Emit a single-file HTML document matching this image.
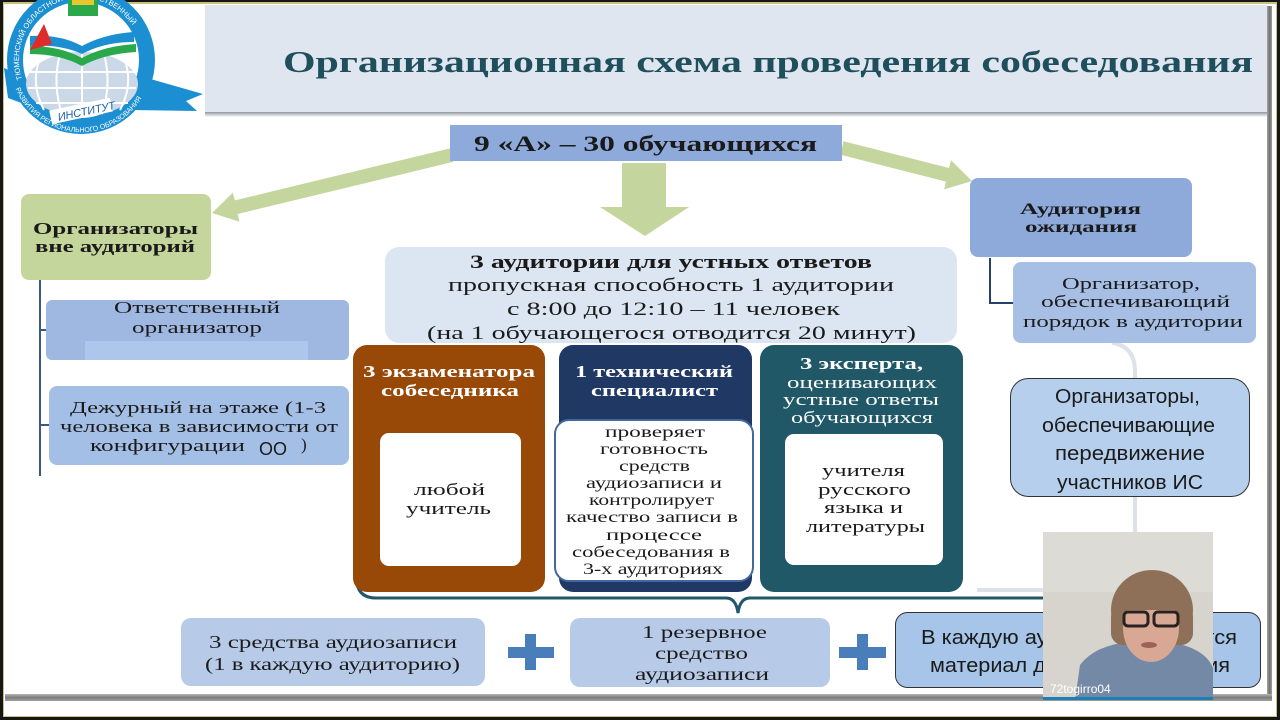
<!DOCTYPE html>
<html>
<head>
<meta charset="utf-8">
<style>
html,body{margin:0;padding:0;background:#161616;}
svg{display:block;}
.s{font-family:"Liberation Serif","DejaVu Serif",serif;fill:#1a1a1a;}
.b{font-weight:bold;}
.w{fill:#ffffff;}
.ss{font-family:"Liberation Sans","DejaVu Sans",sans-serif;fill:#1a1a1a;}
</style>
</head>
<body>
<svg width="1280" height="720" viewBox="0 0 1280 720" xmlns="http://www.w3.org/2000/svg">
  <defs>
    <linearGradient id="gbar" x1="0" y1="0" x2="0" y2="1">
      <stop offset="0" stop-color="#b5b5b5"/>
      <stop offset="0.5" stop-color="#7d7d7d"/>
      <stop offset="1" stop-color="#a0a0a0"/>
    </linearGradient>
    <linearGradient id="rbar" x1="0" y1="0" x2="1" y2="0">
      <stop offset="0" stop-color="#a8a8a8"/>
      <stop offset="0.5" stop-color="#6f6f6f"/>
      <stop offset="1" stop-color="#a0a0a0"/>
    </linearGradient>
    <linearGradient id="tshadow" x1="0" y1="0" x2="0" y2="1">
      <stop offset="0" stop-color="#8f959d"/>
      <stop offset="1" stop-color="#ffffff"/>
    </linearGradient>
    <path id="ringTop" d="M 24.8,86.2 A 62,62 0 1 1 137.2,86.2"/>
    <path id="ringBot" d="M 12,78 A 71,71 0 0 0 150,78"/>
  </defs>

  <!-- frame -->
  <rect x="0" y="0" width="1280" height="720" fill="#161616"/>
  <rect x="3" y="2" width="1274" height="715" fill="#c9c27a"/>
  <rect x="4" y="4" width="1272" height="712" fill="#ffffff"/>
  <rect x="1267" y="6" width="5" height="694" fill="url(#rbar)"/>
  <rect x="5" y="694" width="1267" height="7" fill="url(#gbar)"/>

  <!-- title banner -->
  <rect x="205" y="5" width="1062" height="107" fill="#dfe6f0"/>
  <rect x="205" y="112" width="1062" height="5" fill="url(#tshadow)"/>
  <text x="283" y="72" class="s b" font-size="31" style="fill:#1f4e5c" textLength="970" lengthAdjust="spacingAndGlyphs">Организационная  схема  проведения  собеседования</text>

  <!-- logo -->
  <g>
    <polygon points="140,76 203,94 186,101 197,111 132,110" fill="#1b8fd2"/>
    <polygon points="4,68 18,74 24,104 8,98" fill="#1b8fd2"/>
    <circle cx="81" cy="60" r="66" fill="#ffffff" stroke="#1b8fd2" stroke-width="16"/>
    <ellipse cx="82" cy="84" rx="56" ry="32" fill="#cad8e8"/>
    <g stroke="#ffffff" stroke-width="2" fill="none">
      <line x1="28" y1="72" x2="136" y2="72"/>
      <line x1="28" y1="88" x2="136" y2="88"/>
      <line x1="36" y1="103" x2="128" y2="103"/>
      <path d="M82,52 V116"/>
      <path d="M60,54 Q52,84 62,114"/>
      <path d="M104,54 Q112,84 102,114"/>
      <path d="M40,58 Q30,84 44,110"/>
      <path d="M124,58 Q134,84 120,110"/>
    </g>
    <path d="M30,36 Q60,34 82,46 Q104,34 134,32 L134,42 Q104,42 82,54 Q60,44 30,46 Z" fill="#1b8fd2"/>
    <path d="M30,46 Q60,46 82,58 Q104,46 136,44 L136,52 Q104,54 82,66 Q60,54 30,54 Z" fill="#2aa84a"/>
    <polygon points="30,50 44,24 52,44" fill="#e02b2b"/>
    <rect x="68" y="0" width="30" height="16" fill="#2aa84a"/>
    <rect x="72" y="0" width="22" height="5" fill="#e8c630"/>
    <rect x="50" y="104" width="62" height="14" fill="#ffffff" transform="rotate(-12 81 111)"/>
    <text font-family="Liberation Sans, sans-serif" font-size="7.5" fill="#ffffff"><textPath href="#ringTop" startOffset="3%">ТЮМЕНСКИЙ ОБЛАСТНОЙ ГОСУДАРСТВЕННЫЙ</textPath></text>
    <text x="57" y="116" font-family="Liberation Sans, sans-serif" font-size="11" font-style="italic" fill="#1b5ea8" transform="rotate(-12 81 111)">ИНСТИТУТ</text>
    <text font-family="Liberation Sans, sans-serif" font-size="7" fill="#ffffff"><textPath href="#ringBot" startOffset="6%">РАЗВИТИЯ РЕГИОНАЛЬНОГО ОБРАЗОВАНИЯ</textPath></text>
  </g>

  <!-- arrows -->
  <polygon points="450.6,148.2 234.8,200.4 232.9,192.6 212,213 239.5,221.8 237.6,214 453.4,161.8" fill="#c4d69d"/>
  <polygon points="843.5,141.2 949.1,168 951,160.2 972,181 944.2,189.4 946.1,181.6 840.5,154.8" fill="#c4d69d"/>
  <polygon points="622,163 666,163 666,207 689,207 645,236 600,207 622,207" fill="#c4d69d"/>

  <!-- 9A box -->
  <rect x="450" y="125" width="392" height="36" fill="#8eaadb"/>
  <text x="474" y="151" class="s b" font-size="22" textLength="343" lengthAdjust="spacingAndGlyphs">9 «А» – 30 обучающихся</text>

  <!-- left green box -->
  <rect x="21" y="194" width="190" height="86" rx="8" fill="#c4d69b"/>
  <text x="33" y="234" class="s b" font-size="17" textLength="165" lengthAdjust="spacingAndGlyphs">Организаторы</text>
  <text x="35" y="252" class="s b" font-size="17" textLength="160" lengthAdjust="spacingAndGlyphs">вне аудиторий</text>

  <!-- left tree line -->
  <line x1="40" y1="280" x2="40" y2="476" stroke="#3b5785" stroke-width="2"/>
  <line x1="40" y1="330" x2="47" y2="330" stroke="#3b5785" stroke-width="2"/>
  <line x1="40" y1="425" x2="50" y2="425" stroke="#3b5785" stroke-width="2"/>

  <rect x="46" y="300" width="303" height="60" rx="6" fill="#9fb8e2"/>
  <rect x="85" y="341" width="223" height="19" fill="#acc6ec"/>
  <text x="114" y="313" class="s" font-size="17" textLength="166" lengthAdjust="spacingAndGlyphs">Ответственный</text>
  <text x="132" y="333" class="s" font-size="17" textLength="130" lengthAdjust="spacingAndGlyphs">организатор</text>

  <rect x="49" y="386" width="300" height="79" rx="8" fill="#a4bfe6"/>
  <text x="70" y="413" class="s" font-size="17" textLength="256" lengthAdjust="spacingAndGlyphs">Дежурный на этаже (1-3</text>
  <text x="60" y="432" class="s" font-size="17" textLength="278" lengthAdjust="spacingAndGlyphs">человека в зависимости от</text>
  <text x="90" y="451" class="s" font-size="17" textLength="155" lengthAdjust="spacingAndGlyphs">конфигурации</text>
  <text x="259" y="455" class="ss" font-size="18">ОО</text>
  <text x="301" y="450" class="s" font-size="17">)</text>

  <!-- center info box -->
  <rect x="385" y="247" width="572" height="96" rx="14" fill="#dce6f2"/>
  <text x="470" y="268" class="s b" font-size="19" textLength="402" lengthAdjust="spacingAndGlyphs">3 аудитории для устных ответов</text>
  <text x="448" y="291" class="s" font-size="19" textLength="446" lengthAdjust="spacingAndGlyphs">пропускная способность 1 аудитории</text>
  <text x="507" y="315" class="s" font-size="19" textLength="333" lengthAdjust="spacingAndGlyphs">с 8:00 до 12:10 – 11 человек</text>
  <text x="427" y="339" class="s" font-size="19" textLength="489" lengthAdjust="spacingAndGlyphs">(на 1 обучающегося  отводится 20 минут)</text>

  <!-- right faint bracket -->
  <path d="M1112,343 Q1135,346 1135,372 L1135,565 Q1135,590 1110,590 L977,590" fill="none" stroke="#dde2ea" stroke-width="4"/>

  <!-- brace -->
  <path d="M357,584 Q360,598 376,598 L726,598 Q736,598 738,613 Q740,598 750,598 L1120,598" fill="none" stroke="#215868" stroke-width="3"/>

  <!-- brown column -->
  <rect x="353" y="345" width="192" height="247" rx="14" fill="#984807"/>
  <text x="363" y="377" class="s b w" font-size="17" textLength="172" lengthAdjust="spacingAndGlyphs">3 экзаменатора</text>
  <text x="381" y="396" class="s b w" font-size="17" textLength="138" lengthAdjust="spacingAndGlyphs">собеседника</text>
  <rect x="380" y="433" width="141" height="133" rx="9" fill="#ffffff"/>
  <text x="414" y="495" class="s" font-size="17" textLength="71" lengthAdjust="spacingAndGlyphs">любой</text>
  <text x="406" y="514" class="s" font-size="17" textLength="85" lengthAdjust="spacingAndGlyphs">учитель</text>

  <!-- navy column -->
  <rect x="559" y="345" width="193" height="247" rx="14" fill="#203864"/>
  <text x="575" y="377" class="s b w" font-size="17" textLength="158" lengthAdjust="spacingAndGlyphs">1 технический</text>
  <text x="591" y="396" class="s b w" font-size="17" textLength="127" lengthAdjust="spacingAndGlyphs">специалист</text>
  <rect x="555" y="420" width="198" height="161" rx="14" fill="#ffffff" stroke="#41699e" stroke-width="2"/>
  <text x="605" y="437" class="s" font-size="15.5" textLength="100" lengthAdjust="spacingAndGlyphs">проверяет</text>
  <text x="600" y="454" class="s" font-size="15.5" textLength="108" lengthAdjust="spacingAndGlyphs">готовность</text>
  <text x="619" y="471" class="s" font-size="15.5" textLength="71" lengthAdjust="spacingAndGlyphs">средств</text>
  <text x="586" y="488" class="s" font-size="15.5" textLength="136" lengthAdjust="spacingAndGlyphs">аудиозаписи и</text>
  <text x="589" y="505" class="s" font-size="15.5" textLength="125" lengthAdjust="spacingAndGlyphs">контролирует</text>
  <text x="566" y="522" class="s" font-size="15.5" textLength="172" lengthAdjust="spacingAndGlyphs">качество  записи в</text>
  <text x="606" y="540" class="s" font-size="15.5" textLength="96" lengthAdjust="spacingAndGlyphs">процессе</text>
  <text x="572" y="557" class="s" font-size="15.5" textLength="158" lengthAdjust="spacingAndGlyphs">собеседования  в</text>
  <text x="583" y="574" class="s" font-size="15.5" textLength="140" lengthAdjust="spacingAndGlyphs">3-х аудиториях</text>

  <!-- teal column -->
  <rect x="760" y="345" width="203" height="247" rx="14" fill="#215868"/>
  <text x="800" y="369" class="s b w" font-size="17" textLength="123" lengthAdjust="spacingAndGlyphs">3 эксперта,</text>
  <text x="787" y="388" class="s w" font-size="17" textLength="150" lengthAdjust="spacingAndGlyphs">оценивающих</text>
  <text x="783" y="405" class="s w" font-size="17" textLength="156" lengthAdjust="spacingAndGlyphs">устные ответы</text>
  <text x="791" y="423" class="s w" font-size="17" textLength="142" lengthAdjust="spacingAndGlyphs">обучающихся</text>
  <rect x="785" y="434" width="158" height="131" rx="9" fill="#ffffff"/>
  <text x="822" y="476" class="s" font-size="17" textLength="83" lengthAdjust="spacingAndGlyphs">учителя</text>
  <text x="818" y="495" class="s" font-size="17" textLength="93" lengthAdjust="spacingAndGlyphs">русского</text>
  <text x="824" y="513" class="s" font-size="17" textLength="79" lengthAdjust="spacingAndGlyphs">языка и</text>
  <text x="806" y="532" class="s" font-size="17" textLength="119" lengthAdjust="spacingAndGlyphs">литературы</text>

  <!-- right column -->
  <rect x="970" y="178" width="222" height="79" rx="8" fill="#8eaadb"/>
  <text x="1020" y="214" class="s b" font-size="16" textLength="121" lengthAdjust="spacingAndGlyphs">Аудитория</text>
  <text x="1025" y="232" class="s b" font-size="16" textLength="112" lengthAdjust="spacingAndGlyphs">ожидания</text>
  <path d="M990,258 L990,303 L1013,303" fill="none" stroke="#24406b" stroke-width="2"/>
  <rect x="1013" y="262" width="243" height="81" rx="8" fill="#a7bfe5"/>
  <text x="1062" y="289" class="s" font-size="17" textLength="138" lengthAdjust="spacingAndGlyphs">Организатор,</text>
  <text x="1041" y="307" class="s" font-size="17" textLength="189" lengthAdjust="spacingAndGlyphs">обеспечивающий</text>
  <text x="1023" y="327" class="s" font-size="17" textLength="220" lengthAdjust="spacingAndGlyphs">порядок в аудитории</text>

  <rect x="1010.5" y="378.5" width="239" height="118" rx="18" fill="#b5cfec" stroke="#333333" stroke-width="1"/>
  <text x="1055" y="403" class="ss" font-size="20" textLength="145" lengthAdjust="spacingAndGlyphs">Организаторы,</text>
  <text x="1042" y="432" class="ss" font-size="20" textLength="173" lengthAdjust="spacingAndGlyphs">обеспечивающие</text>
  <text x="1055" y="460" class="ss" font-size="20" textLength="150" lengthAdjust="spacingAndGlyphs">передвижение</text>
  <text x="1057" y="489" class="ss" font-size="20" textLength="146" lengthAdjust="spacingAndGlyphs">участников ИС</text>

  <!-- bottom row -->
  <rect x="181" y="618" width="304" height="68" rx="10" fill="#b7cae8"/>
  <text x="209" y="648" class="s" font-size="18" textLength="248" lengthAdjust="spacingAndGlyphs">3 средства аудиозаписи</text>
  <text x="205" y="670" class="s" font-size="18" textLength="255" lengthAdjust="spacingAndGlyphs">(1 в каждую аудиторию)</text>

  <rect x="508" y="647" width="46" height="11" fill="#4a7ebb"/>
  <rect x="525" y="634" width="11" height="36" fill="#4a7ebb"/>

  <rect x="570" y="618" width="260" height="69" rx="10" fill="#b7cae8"/>
  <text x="642" y="638" class="s" font-size="18" textLength="125" lengthAdjust="spacingAndGlyphs">1 резервное</text>
  <text x="655" y="659" class="s" font-size="18" textLength="93" lengthAdjust="spacingAndGlyphs">средство</text>
  <text x="635" y="680" class="s" font-size="18" textLength="134" lengthAdjust="spacingAndGlyphs">аудиозаписи</text>

  <rect x="839" y="647" width="47" height="11" fill="#4a7ebb"/>
  <rect x="857" y="634" width="11" height="36" fill="#4a7ebb"/>

  <rect x="895.5" y="612.5" width="365" height="75" rx="12" fill="#a6c5e8" stroke="#333333" stroke-width="1"/>
  <text x="921" y="644" class="ss" font-size="20" textLength="316" lengthAdjust="spacingAndGlyphs">В каждую аудиторию выдается</text>
  <text x="930" y="672" class="ss" font-size="20" textLength="300" lengthAdjust="spacingAndGlyphs">материал для собеседования</text>

  <!-- video overlay -->
  <g>
    <rect x="1043" y="532" width="170" height="168" fill="#d6d4cd"/>
    <rect x="1043" y="532" width="170" height="60" fill="#dddbd5"/>
    <path d="M1075,700 L1080,665 Q1095,645 1130,642 L1170,642 Q1205,648 1213,668 L1213,700 Z" fill="#7489a6"/>
    <ellipse cx="1152" cy="610" rx="41" ry="40" fill="#8e7058"/>
    <rect x="1111" y="605" width="82" height="40" rx="12" fill="#8e7058"/>
    <ellipse cx="1151" cy="628" rx="28" ry="34" fill="#d8a895"/>
    <path d="M1120,598 Q1150,575 1182,598 L1182,610 L1120,610 Z" fill="#8e7058"/>
    <rect x="1124" y="612" width="24" height="14" rx="4" fill="none" stroke="#2a2220" stroke-width="3"/>
    <rect x="1154" y="612" width="24" height="14" rx="4" fill="none" stroke="#2a2220" stroke-width="3"/>
    <ellipse cx="1149" cy="645" rx="8" ry="3" fill="#a0605a"/>
    <rect x="1043" y="697" width="170" height="3" fill="#1f7fb5"/>
    <text x="1050" y="693" font-family="Liberation Sans, DejaVu Sans, sans-serif" font-size="12" fill="#ffffff">72togirro04</text>
  </g>
</svg>
</body>
</html>
